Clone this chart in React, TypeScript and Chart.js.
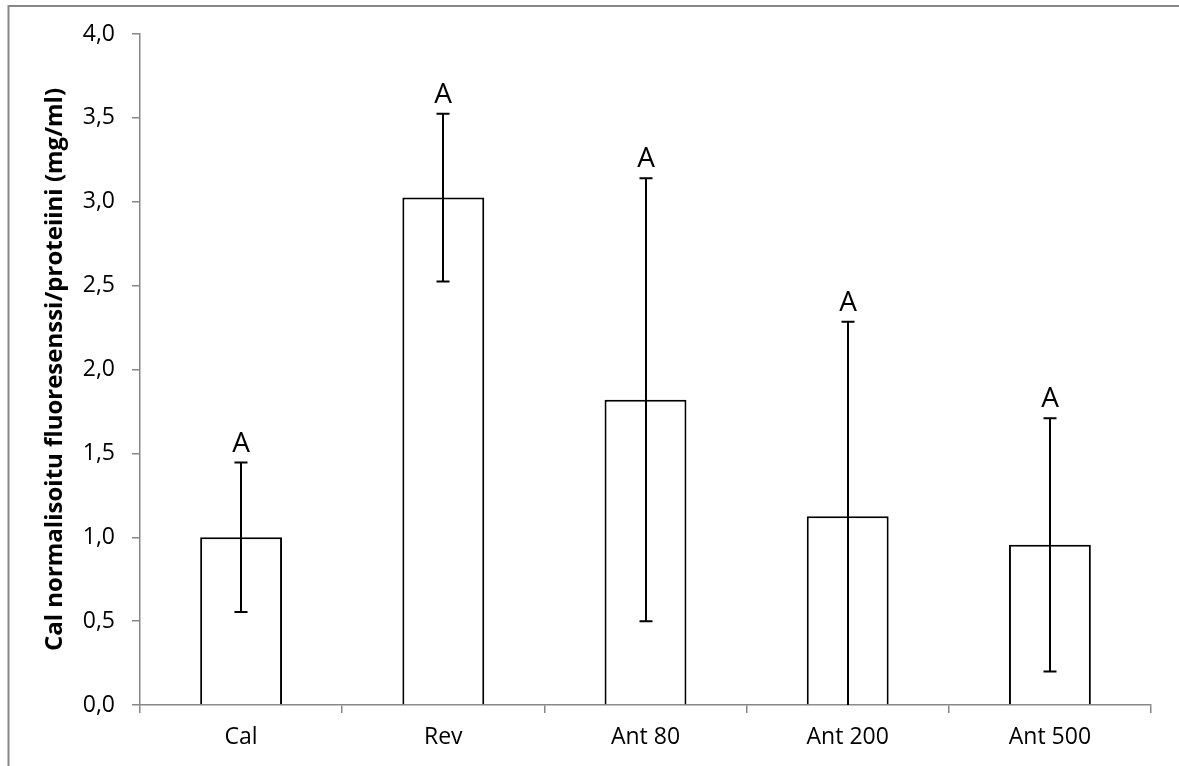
import React, { useEffect, useRef } from "react";
import { Chart, registerables } from "chart.js";

Chart.register(...registerables);

const categories = ["Cal", "Rev", "Ant 80", "Ant 200", "Ant 500"];
const means = [1.0, 3.025, 1.82, 1.125, 0.955];
const errors = [0.445, 0.5, 1.32, 1.16, 0.755];
const letters = ["A", "A", "A", "A", "A"];
const yTitle = "Cal normalisoitu fluoresenssi/proteiini (mg/ml)";

const FONT = "'Open Sans', Lato, sans-serif";

const framePlugin = {
  id: "frame",
  beforeDraw(chart: any) {
    const ctx = chart.ctx;
    ctx.save();
    ctx.fillStyle = "#ffffff";
    ctx.fillRect(0, 0, chart.width, chart.height);
    ctx.strokeStyle = "#878787";
    ctx.lineWidth = 2;
    ctx.beginPath();
    ctx.moveTo(8.5, chart.height + 10);
    ctx.lineTo(8.5, 6);
    ctx.lineTo(chart.width + 10, 6);
    ctx.stroke();
    ctx.restore();
  },
};

const errorPlugin = {
  id: "errorBars",
  afterDatasetsDraw(chart: any) {
    const ctx = chart.ctx;
    const y = chart.scales.y;
    const meta = chart.getDatasetMeta(0);
    ctx.save();
    ctx.strokeStyle = "#000000";
    ctx.lineWidth = 2;
    meta.data.forEach((bar: any, i: number) => {
      const x = Math.round(bar.x);
      const hi = means[i] + errors[i];
      const loRaw = means[i] - errors[i];
      const lo = Math.max(0, loRaw);
      const yHi = y.getPixelForValue(hi);
      const yLo = y.getPixelForValue(lo);
      ctx.beginPath();
      ctx.moveTo(x, yHi);
      ctx.lineTo(x, yLo);
      ctx.moveTo(x - 6.5, yHi);
      ctx.lineTo(x + 6.5, yHi);
      if (loRaw >= 0) {
        ctx.moveTo(x - 6.5, yLo);
        ctx.lineTo(x + 6.5, yLo);
      }
      ctx.stroke();
      ctx.fillStyle = "#000000";
      ctx.font = "28px " + FONT;
      ctx.textAlign = "center";
      ctx.textBaseline = "alphabetic";
      ctx.fillText(letters[i], x, yHi - 11);
    });
    ctx.restore();
  },
};

export default function App() {
  const ref = useRef<HTMLCanvasElement>(null);
  useEffect(() => {
    if (!ref.current) return;
    const chart = new Chart(ref.current, {
      type: "bar",
      data: {
        labels: categories,
        datasets: [
          {
            data: means,
            backgroundColor: "#ffffff",
            borderColor: "#000000",
            borderWidth: 2,
            borderSkipped: "bottom",
            barPercentage: 0.405,
            categoryPercentage: 1,
          },
        ],
      },
      options: {
        responsive: false,
        animation: false,
        devicePixelRatio: 1,
        layout: { padding: { left: 41, top: 34, right: 28, bottom: 0 } },
        plugins: {
          legend: { display: false },
          tooltip: { enabled: false },
          title: { display: false },
        },
        scales: {
          x: {
            offset: true,
            grid: {
              offset: true,
              drawOnChartArea: false,
              drawTicks: true,
              tickLength: 8,
              color: "#878787",
              lineWidth: 1.5,
            },
            border: { display: true, color: "#878787", width: 1.5 },
            ticks: {
              color: "#000000",
              font: { family: FONT, size: 23 },
              padding: 11,
              maxRotation: 0,
            },
            afterFit(scale: any) {
              scale.height = 61;
            },
          },
          y: {
            min: 0,
            max: 4,
            grid: {
              drawOnChartArea: false,
              drawTicks: true,
              tickLength: 8,
              color: "#878787",
              lineWidth: 1.5,
            },
            border: { display: true, color: "#878787", width: 1.5 },
            ticks: {
              stepSize: 0.5,
              color: "#000000",
              font: { family: FONT, size: 23 },
              padding: 17,
              callback: (v: any) => Number(v).toFixed(1).replace(".", ","),
            },
            title: {
              display: true,
              text: yTitle,
              color: "#000000",
              font: { family: FONT, size: 24, weight: "bold" },
              padding: 0,
            },
            afterFit(scale: any) {
              scale.width = 99;
            },
          },
        },
      },
      plugins: [framePlugin, errorPlugin],
    });
    return () => chart.destroy();
  }, []);
  return (
    <div style={{ position: "fixed", left: 0, top: 0, width: 1179, height: 766, background: "#fff" }}>
      <canvas ref={ref} width={1179} height={766} style={{ display: "block", width: 1179, height: 766 }} />
    </div>
  );
}
